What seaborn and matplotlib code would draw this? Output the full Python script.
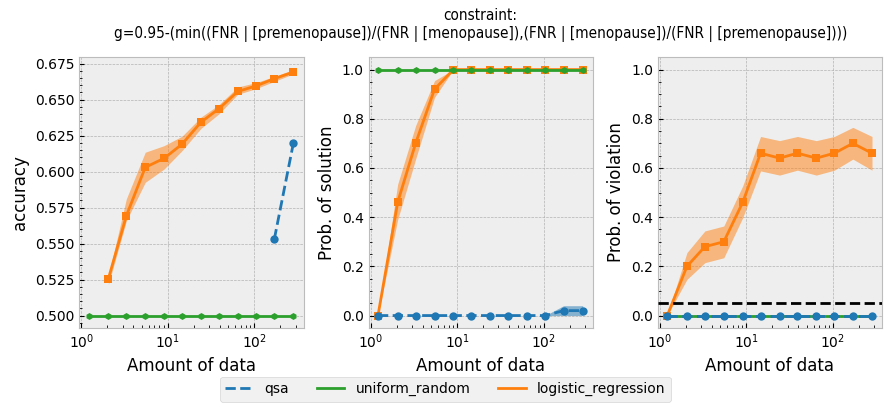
import numpy as np
import pandas as pd
import matplotlib
matplotlib.use('Agg')
import matplotlib.pyplot as plt
import seaborn as sns
from matplotlib.lines import Line2D

# amount of data (x, log scale)
amount = [1.22, 2.06, 3.32, 5.49, 9.08, 14.6, 24.2, 38.9, 64.3, 104, 170, 283]

# accuracy
acc_lr = [np.nan, 0.5256, 0.5692, 0.6029, 0.6092, 0.6190, 0.6343, 0.6436, 0.6556, 0.6594, 0.6645, 0.6691]
acc_lr_lo = [np.nan, 0.5216, 0.5658, 0.5925, 0.6018, 0.6145, 0.6300, 0.6400, 0.6536, 0.6575, 0.6626, 0.6678]
acc_lr_hi = [np.nan, 0.5274, 0.5810, 0.6134, 0.6180, 0.6245, 0.6378, 0.6464, 0.6587, 0.6617, 0.6660, 0.6708]
acc_ur = [0.5] * 12
acc_qsa = [np.nan] * 10 + [0.553, 0.620]

# probability of solution
sol_lr = [0.0, 0.46, 0.70, 0.92, 1.0, 1.0, 1.0, 1.0, 1.0, 1.0, 1.0, 1.0]
sol_lr_lo = [0.0, 0.39, 0.636, 0.887, 1.0, 1.0, 1.0, 1.0, 1.0, 1.0, 1.0, 1.0]
sol_lr_hi = [0.0, 0.534, 0.772, 0.955, 1.0, 1.0, 1.0, 1.0, 1.0, 1.0, 1.0, 1.0]
sol_ur = [1.0] * 12
sol_qsa = [0.0] * 10 + [0.02, 0.02]
sol_qsa_lo = [0.0] * 12
sol_qsa_hi = [0.0] * 10 + [0.04, 0.04]

# probability of violation
vio_lr = [0.0, 0.20, 0.28, 0.30, 0.46, 0.66, 0.64, 0.66, 0.64, 0.66, 0.70, 0.66]
vio_lr_lo = [0.0, 0.147, 0.215, 0.235, 0.398, 0.588, 0.571, 0.591, 0.571, 0.591, 0.636, 0.591]
vio_lr_hi = [0.0, 0.256, 0.344, 0.364, 0.527, 0.728, 0.711, 0.728, 0.711, 0.728, 0.765, 0.728]
vio_ur = [0.0] * 12
vio_qsa = [0.0] * 12
delta = 0.05

title = ("constraint:\n"
         "g=0.95-(min((FNR | [premenopause])/(FNR | [menopause]),"
         "(FNR | [menopause])/(FNR | [premenopause])))")

c_qsa, c_ur, c_lr = '#1f77b4', '#2ca02c', '#ff7f0e'

plt.style.use('bmh')
plt.rcParams['font.family'] = ['DejaVu Sans']

fig, axes = plt.subplots(1, 3, figsize=(8.91, 4.15), dpi=100)
fig.subplots_adjust(left=0.089, right=0.99, top=0.862, bottom=0.21, wspace=0.29)


def draw(ax, lr, lr_lo, lr_hi, ur, qsa, qsa_lo=None, qsa_hi=None):
    df = pd.DataFrame({'x': amount, 'lr': lr, 'ur': ur, 'qsa': qsa})
    ax.fill_between(amount, lr_lo, lr_hi, color=c_lr, alpha=0.5, lw=0, zorder=2)
    sns.lineplot(data=df, x='x', y='lr', ax=ax, color=c_lr, marker='s',
                 markersize=5.5, markeredgewidth=0, linewidth=2, zorder=3)
    sns.lineplot(data=df, x='x', y='ur', ax=ax, color=c_ur, marker='h',
                 markersize=5, markeredgewidth=0, linewidth=2, zorder=4)
    if qsa_lo is not None:
        ax.fill_between(amount, qsa_lo, qsa_hi, color=c_qsa, alpha=0.5, lw=0, zorder=4.5)
    sns.lineplot(data=df, x='x', y='qsa', ax=ax, color=c_qsa, marker='o',
                 markersize=6, markeredgewidth=0, linewidth=2, linestyle='--', zorder=5)
    ax.set_xscale('log')
    ax.minorticks_on()
    ax.set_xlabel('Amount of data', fontsize=12)
    ax.tick_params(labelsize=10)


draw(axes[0], acc_lr, acc_lr_lo, acc_lr_hi, acc_ur, acc_qsa)
axes[0].set_ylabel('accuracy', fontsize=12)

draw(axes[1], sol_lr, sol_lr_lo, sol_lr_hi, sol_ur, sol_qsa, sol_qsa_lo, sol_qsa_hi)
axes[1].set_ylabel('Prob. of solution', fontsize=12)
axes[1].set_ylim(-0.05, 1.05)

draw(axes[2], vio_lr, vio_lr_lo, vio_lr_hi, vio_ur, vio_qsa)
axes[2].axhline(delta, color='black', linestyle='--', linewidth=2, zorder=6)
axes[2].set_ylabel('Prob. of violation', fontsize=12)
axes[2].set_ylim(-0.05, 1.05)

for ax in axes:
    ax.set_xlim(0.95, 370)

fig.suptitle(title, fontsize=11, x=0.5395, y=0.98, fontstretch='condensed')

handles = [Line2D([], [], color=c_qsa, lw=2, ls='--'),
           Line2D([], [], color=c_ur, lw=2),
           Line2D([], [], color=c_lr, lw=2)]
fig.legend(handles, ['qsa', 'uniform_random', 'logistic_regression'],
           loc='lower center', ncol=3, bbox_to_anchor=(0.5, 0.015),
           fontsize=10, handlelength=2.0, columnspacing=2.0)

fig.savefig('out.png', dpi=100)
